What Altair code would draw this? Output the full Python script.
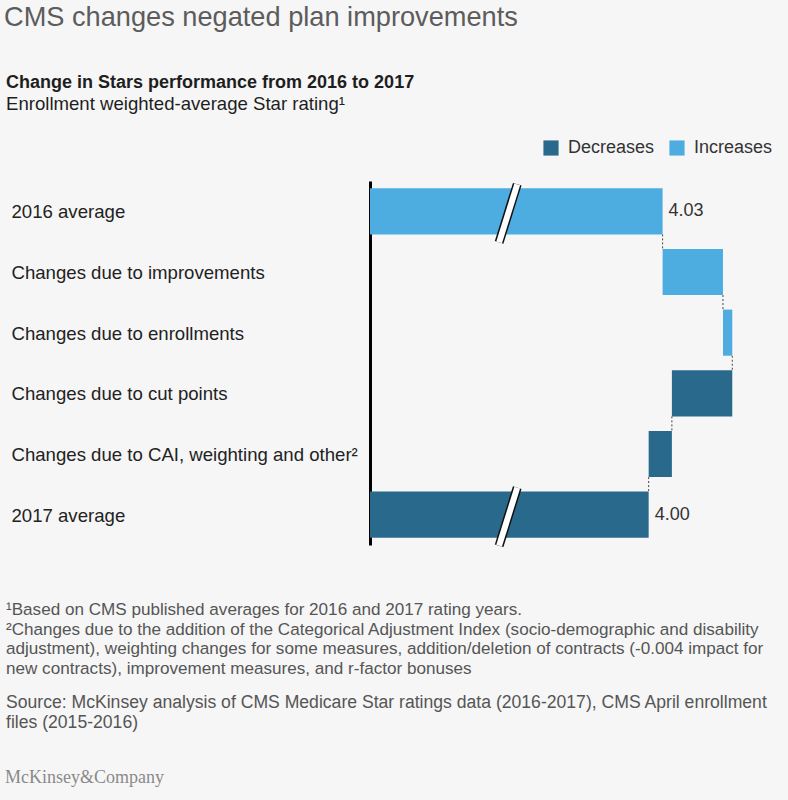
import altair as alt
import pandas as pd

# ---------------- data ----------------
categories = [
    "2016 average",
    "Changes due to improvements",
    "Changes due to enrollments",
    "Changes due to cut points",
    "Changes due to CAI, weighting and other²",
    "2017 average",
]
values = [4.03, 0.13, 0.02, -0.13, -0.05, 4.00]
is_total = [True, False, False, False, False, True]
series = ["Increases", "Increases", "Increases", "Decreases", "Decreases", "Decreases"]
value_labels = ["4.03", "", "", "", "", "4.00"]
legend_order = ["Decreases", "Increases"]
legend_colors = ["#29698C", "#4DADE0"]

# broken axis settings (scale parameters)
axis_floor = 3.4
axis_ceiling = 4.3
break_lo, break_hi = 3.678, 3.717

title_text = "CMS changes negated plan improvements"
subtitle_1 = "Change in Stars performance from 2016 to 2017"
subtitle_2 = "Enrollment weighted-average Star rating¹"
footnotes = [
    "¹Based on CMS published averages for 2016 and 2017 rating years.",
    "²Changes due to the addition of the Categorical Adjustment Index (socio-demographic and disability",
    "adjustment), weighting changes for some measures, addition/deletion of contracts (-0.004 impact for",
    "new contracts), improvement measures, and r-factor bonuses",
]
source_lines = [
    "Source: McKinsey analysis of CMS Medicare Star ratings data (2016-2017), CMS April enrollment",
    "files (2015-2016)",
]
brand = "McKinsey&Company"

# ---------------- derived tables ----------------
starts, ends = [], []
running = None
for v, t in zip(values, is_total):
    if t:
        s, e = axis_floor, v
        running = v
    else:
        s, e = running, running + v
        running = e
    starts.append(s)
    ends.append(e)

bars = pd.DataFrame({
    "cat": categories,
    "start": starts,
    "end": ends,
    "series": series,
    "label": value_labels,
    "total": is_total,
})

conn = pd.DataFrame({
    "cat": categories[:-1],
    "next": categories[1:],
    "level": ends[:-1],
})

totals = bars[bars["total"]].copy()
totals["lo"] = break_lo
totals["hi"] = break_hi

FONT = "Liberation Sans"
xscale = alt.Scale(domain=[axis_floor, axis_ceiling], nice=False, zero=False)
yscale = alt.Scale(domain=categories, paddingInner=0.24, paddingOuter=0.12)
yaxis = alt.Axis(
    title=None, labelAlign="left", labelPadding=359, ticks=False, tickSize=0,
    domain=True, domainColor="#000000", domainWidth=3, labelFontSize=18.6,
    labelColor="#222222", labelLimit=400, labelFont=FONT, grid=False, labelOffset=1,
)

connectors = alt.Chart(conn).mark_rule(
    strokeDash=[2, 2], color="#444444", strokeWidth=1
).encode(
    x=alt.X("level:Q", scale=xscale, axis=None),
    y=alt.Y("cat:N", scale=yscale, axis=yaxis, bandPosition=1),
    y2=alt.Y2(field="next", bandPosition=0),
)

bar_layer = alt.Chart(bars).mark_bar().encode(
    x=alt.X("start:Q", scale=xscale, axis=None),
    x2="end:Q",
    y=alt.Y("cat:N", scale=yscale, axis=yaxis),
    color=alt.Color(
        "series:N",
        scale=alt.Scale(domain=legend_order, range=legend_colors),
        legend=alt.Legend(
            title=None, orient="none", legendX=172, legendY=-42,
            direction="horizontal", symbolType="square", symbolSize=230,
            symbolStrokeWidth=0, labelFontSize=18, labelFont=FONT,
            labelColor="#333333", columnPadding=13, labelOffset=8, padding=0,
        ),
    ),
)

break_black = alt.Chart(totals).mark_rule(
    color="#111111", strokeWidth=9, yOffset=8, y2Offset=-4
).encode(
    x=alt.X("lo:Q", scale=xscale, axis=None),
    x2="hi:Q",
    y=alt.Y("cat:N", scale=yscale, axis=yaxis, bandPosition=1),
    y2=alt.Y2(field="cat", bandPosition=0),
)
break_white = alt.Chart(totals).mark_rule(
    color="#ffffff", strokeWidth=6, yOffset=8, y2Offset=-4
).encode(
    x=alt.X("lo:Q", scale=xscale, axis=None),
    x2="hi:Q",
    y=alt.Y("cat:N", scale=yscale, axis=yaxis, bandPosition=1),
    y2=alt.Y2(field="cat", bandPosition=0),
)

value_text = alt.Chart(totals).mark_text(
    align="left", baseline="middle", dx=6, fontSize=18, color="#333333", font=FONT
).encode(
    x=alt.X("end:Q", scale=xscale, axis=None),
    y=alt.Y("cat:N", scale=yscale, axis=yaxis),
    text="label:N",
)


def text_layer(lines, x, y, size, color, weight="normal", font=FONT, line_height=20):
    df = pd.DataFrame({"t": ["\n".join(lines)]})
    return alt.Chart(df).mark_text(
        align="left", baseline="alphabetic", fontSize=size, color=color,
        fontWeight=weight, font=font, lineBreak="\n", lineHeight=line_height,
    ).encode(x=alt.value(x), y=alt.value(y), text="t:N")


title_layer = text_layer([title_text], -366, -155, 27.2, "#5c5c5c")
sub1_layer = text_layer([subtitle_1], -364, -93, 18, "#1e1e1e", weight="bold")
sub2_layer = text_layer([subtitle_2], -364, -71, 18.6, "#1e1e1e")
foot_layer = text_layer(footnotes, -364, 434, 17.1, "#555555", line_height=19.5)
source_layer = text_layer(source_lines, -364, 527, 17.6, "#555555", line_height=20)
brand_layer = text_layer([brand], -365, 602, 18, "#8a8a8a", font="Liberation Serif")

chart = alt.layer(
    connectors, bar_layer, break_black, break_white, value_text,
    title_layer, sub1_layer, sub2_layer, foot_layer, source_layer, brand_layer,
).properties(
    width=418,
    height=364,
    padding={"left": 370, "top": 181, "right": 0, "bottom": 255},
    autosize=alt.AutoSizeParams(type="none"),
    background="#f6f6f6",
).configure_view(stroke=None)

chart.save("out.html", embed_options={"renderer": "svg", "actions": False})
